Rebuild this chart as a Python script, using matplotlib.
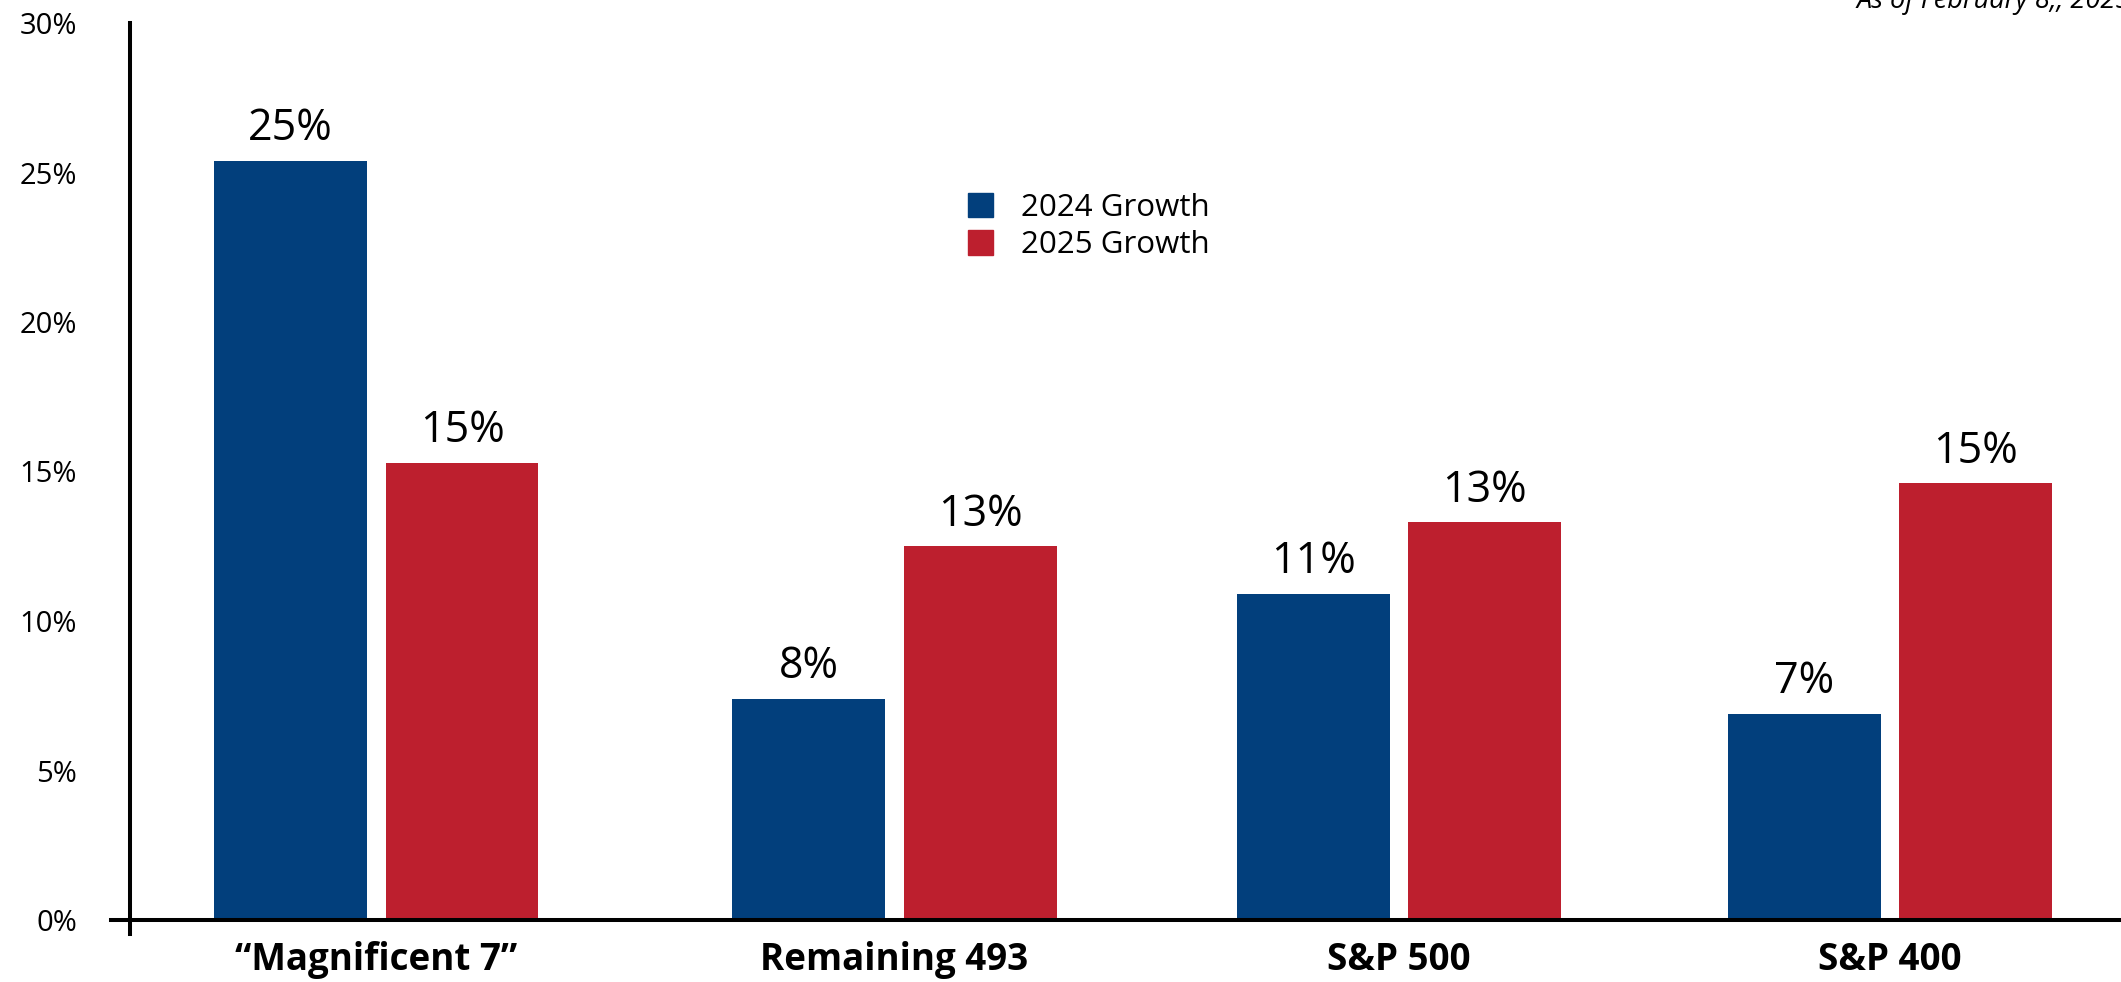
import matplotlib.pyplot as plt
from matplotlib.patches import Patch

plt.rcParams['font.family'] = ['Open Sans', 'DejaVu Sans']

categories = ['\u201cMagnificent 7\u201d', 'Remaining 493', 'S&P 500', 'S&P 400']
growth_2024 = [25.4, 7.4, 10.9, 6.9]
growth_2025 = [15.3, 12.5, 13.3, 14.6]
labels_2024 = ['25%', '8%', '11%', '7%']
labels_2025 = ['15%', '13%', '13%', '15%']
yticks = [0, 5, 10, 15, 20, 25, 30]

# group centres (the original spacing is not quite even)
xpos = [0, 1.027, 2.027, 3.0]

blue = '#023f7c'
red = '#bd1f2e'

W, H = 2121, 982
fig = plt.figure(figsize=(W / 100, H / 100), dpi=100)
ax = fig.add_axes([130 / W, 1 - 920 / H, 1 - 130 / W, (920 - 23) / H])

bw = 0.303
off = 0.170
b1 = ax.bar([p - off for p in xpos], growth_2024, bw, color=blue, label='2024 Growth')
b2 = ax.bar([p + off for p in xpos], growth_2025, bw, color=red, label='2025 Growth')

for bars, labs in ((b1, labels_2024), (b2, labels_2025)):
    for r, t in zip(bars, labs):
        ax.annotate(t, (r.get_x() + r.get_width() / 2, r.get_height()),
                    xytext=(0, 7), textcoords='offset points',
                    ha='center', va='bottom', fontsize=31)

ax.set_xlim(-0.488, 3.458)
ax.set_ylim(0, 30)
ax.set_yticks(yticks)
ax.set_yticklabels([f'{v}%' for v in yticks], fontsize=21)
ax.set_xticks(xpos)
ax.set_xticklabels(categories, fontsize=26.5, fontweight='bold')
ax.tick_params(axis='both', length=0)
ax.tick_params(axis='y', pad=38)
ax.tick_params(axis='x', pad=15)

for s in ('top', 'right', 'left', 'bottom'):
    ax.spines[s].set_visible(False)
# axis lines, slightly overshooting like the original
ax.plot([0, 0], [-0.016, 1], transform=ax.transAxes, color='black', lw=2.9, clip_on=False)
ax.plot([-0.0095, 1], [0, 0], transform=ax.transAxes, color='black', lw=2.9, clip_on=False)

ax.legend(handles=[Patch(color=blue, label='2024 Growth'), Patch(color=red, label='2025 Growth')],
          loc='upper left', bbox_to_anchor=(955 / W, 1 - 180 / H), bbox_transform=fig.transFigure,
          frameon=False, fontsize=22.5, handlelength=0.82, handleheight=0.82,
          handletextpad=0.88, labelspacing=0.25, borderaxespad=0)

fig.text(1857 / W, 1 - 8 / H, 'As of February 8,, 2025', fontsize=19.5, style='italic',
         ha='left', va='baseline')

fig.savefig('out.png', dpi=100)
